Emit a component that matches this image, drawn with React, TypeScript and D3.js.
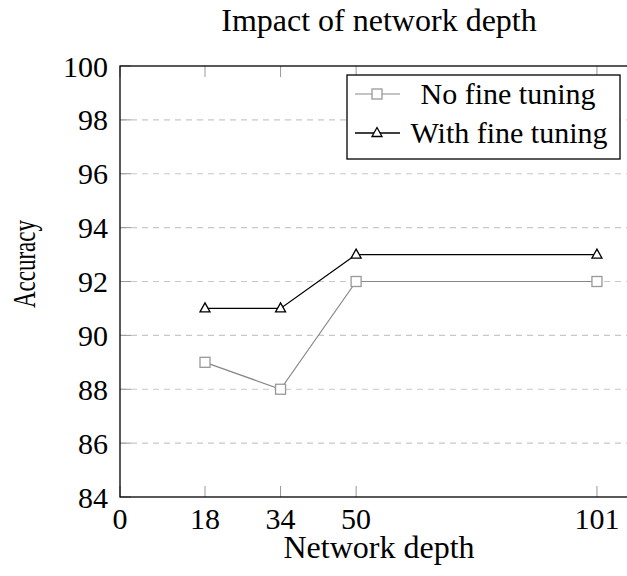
import React from "react";
import * as d3 from "d3";

const depths = [18, 34, 50, 101];
const noFineTuning = [89, 88, 92, 92];
const withFineTuning = [91, 91, 93, 93];
const xTicks = [0, 18, 34, 50, 101];
const yTicks = [84, 86, 88, 90, 92, 94, 96, 98, 100];
const seriesNames = ["No fine tuning", "With fine tuning"];

const W = 627;
const H = 576;
const FONT = "'Liberation Serif', 'Times New Roman', serif";

export default function App() {
  const left = 120, right = 630, top = 66, bottom = 497;
  const x = d3.scaleLinear().domain([0, 108]).range([left, right]);
  const y = d3.scaleLinear().domain([84, 100]).range([bottom, top]);
  const line = d3
    .line<[number, number]>()
    .x((d) => x(d[0]))
    .y((d) => y(d[1]));
  const s1 = depths.map((d, i) => [d, noFineTuning[i]] as [number, number]);
  const s2 = depths.map((d, i) => [d, withFineTuning[i]] as [number, number]);

  const sq = (cx: number, cy: number, key: string) => (
    <rect key={key} x={cx - 5} y={cy - 5} width={10} height={10} fill="white" stroke="#999" strokeWidth={1.3} />
  );
  const tri = (cx: number, cy: number, key: string) => (
    <path key={key} d={`M${cx},${cy - 5.5} L${cx + 5},${cy + 3.5} L${cx - 5},${cy + 3.5} Z`} fill="white" stroke="black" strokeWidth={1.3} />
  );

  const legX = 347, legR = 620, legT = 75, legB = 159;

  return (
    <svg width={W} height={H} style={{ position: "absolute", left: 0, top: 0 }} fontFamily={FONT}>
      <rect width={W} height={H} fill="white" />
      <text x={379} y={31} textAnchor="middle" fontSize={32}>
        Impact of network depth
      </text>
      {/* grid */}
      {yTicks.filter((t) => t !== 84 && t !== 100).map((t) => (
        <line key={"g" + t} x1={left} x2={right} y1={y(t)} y2={y(t)} stroke="#c8c8c8" strokeWidth={1.2} strokeDasharray="6,5" />
      ))}
      {/* y ticks */}
      {yTicks.map((t) => (
        <g key={"yt" + t}>
          <line x1={left} x2={left + 11} y1={y(t)} y2={y(t)} stroke="#999" strokeWidth={1} />
          <text x={108} y={y(t)} dy="0.35em" textAnchor="end" fontSize={30}>
            {t}
          </text>
        </g>
      ))}
      {/* x ticks */}
      {xTicks.map((t) => (
        <g key={"xt" + t}>
          <line x1={x(t)} x2={x(t)} y1={bottom} y2={bottom - 11} stroke="#999" strokeWidth={1} />
          <line x1={x(t)} x2={x(t)} y1={top} y2={top + 11} stroke="#999" strokeWidth={1} />
          <text x={x(t)} y={529} textAnchor="middle" fontSize={30}>
            {t}
          </text>
        </g>
      ))}
      {/* axes box */}
      <rect x={left} y={top} width={right - left} height={bottom - top} fill="none" stroke="black" strokeWidth={1.3} />
      {/* series */}
      <path d={line(s1) || ""} fill="none" stroke="#888" strokeWidth={1.2} />
      {s1.map((d, i) => sq(x(d[0]), y(d[1]), "s" + i))}
      <path d={line(s2) || ""} fill="none" stroke="black" strokeWidth={1.3} />
      {s2.map((d, i) => tri(x(d[0]), y(d[1]), "t" + i))}
      {/* legend */}
      <rect x={legX} y={legT} width={legR - legX} height={legB - legT} fill="white" stroke="black" strokeWidth={1.3} />
      <line x1={355} x2={400} y1={94} y2={94} stroke="#888" strokeWidth={1.2} />
      {sq(377, 94, "ls")}
      <text x={508} y={104} textAnchor="middle" fontSize={30}>{seriesNames[0]}</text>
      <line x1={355} x2={400} y1={133} y2={133} stroke="black" strokeWidth={1.3} />
      {tri(377, 133, "lt")}
      <text x={509} y={143} textAnchor="middle" fontSize={30}>{seriesNames[1]}</text>
      {/* axis labels */}
      <text x={379} y={558} textAnchor="middle" fontSize={32}>
        Network depth
      </text>
      <text transform={`translate(35, 264) rotate(-90)`} textAnchor="middle" fontSize={32} textLength={88} lengthAdjust="spacingAndGlyphs">
        Accuracy
      </text>
    </svg>
  );
}
